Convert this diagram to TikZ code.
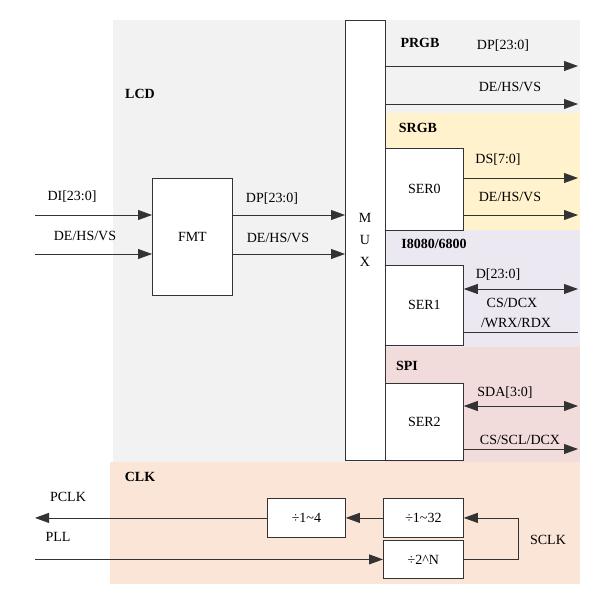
\documentclass[tikz,border=0pt]{standalone}
\usepackage{fontspec}
\setmainfont{Liberation Serif}
\usetikzlibrary{arrows.meta}
\definecolor{gr}{HTML}{F2F2F2}
\definecolor{ye}{HTML}{FFF2CC}
\definecolor{la}{HTML}{ECE8F2}
\definecolor{pk}{HTML}{F2DCDB}
\definecolor{or}{HTML}{FBE5D6}
\begin{document}
\begin{tikzpicture}[x=1pt,y=-1pt,
  box/.style={draw=black!80,fill=white,line width=0.8pt},
  ar/.style={draw=black!80,line width=0.8pt,-{Triangle[width=10pt,length=14pt]}},
  dar/.style={draw=black!80,line width=0.8pt,{Triangle[width=10pt,length=14pt]}-{Triangle[width=10pt,length=14pt]}},
  ln/.style={draw=black!80,line width=0.8pt},
  lb/.style={font=\fontsize{14}{16}\selectfont,inner sep=0pt},
  tt/.style={font=\fontsize{14}{16}\selectfont\bfseries,inner sep=0pt}]
\useasboundingbox (0,0) rectangle (603,606);
\fill[gr] (113,20) rectangle (580,462);
\fill[ye] (385,113) rectangle (580,230);
\fill[la] (385,230) rectangle (580,347);
\fill[pk] (385,347) rectangle (580,462);
\fill[or] (110,462) rectangle (580,584);
\node[box,minimum width=40pt,minimum height=440pt,anchor=north west,inner sep=0pt] (mux) at (345,20) {};
\node[lb,align=center] at (365,240) {M\\[6pt]U\\[6pt]X};
\node[box,minimum width=80pt,minimum height=117pt,anchor=north west,lb] (fmt) at (152,178) {FMT};
\node[box,minimum width=78pt,minimum height=82pt,anchor=north west,lb] (s0) at (385,148) {SER0};
\node[box,minimum width=78pt,minimum height=80pt,anchor=north west,lb] (s1) at (385,265) {SER1};
\node[box,minimum width=78pt,minimum height=77pt,anchor=north west,lb] (s2) at (385,383) {SER2};
\node[box,minimum width=78pt,minimum height=39pt,anchor=north west,lb] (d4) at (267,498) {÷1\textasciitilde4};
\node[box,minimum width=80pt,minimum height=39pt,anchor=north west,lb] (d32) at (383,498) {÷1\textasciitilde32};
\node[box,minimum width=80pt,minimum height=38pt,anchor=north west,lb] (dn) at (383,540) {÷2\textasciicircum N};
\node[tt] at (140,94) {LCD};
\node[tt] at (420,43) {PRGB};
\node[tt] at (418,128) {SRGB};
\node[tt] at (434,244) {I8080/6800};
\node[tt] at (407,366) {SPI};
\node[tt] at (140,477) {CLK};
\coordinate (i1) at (35,215); \coordinate (i2) at (35,254);
\draw[ar] (i1) -- (i1-|fmt.west);
\draw[ar] (i2) -- (i2-|fmt.west);
\node[lb] at (72,197) {DI[23:0]};
\node[lb] at (85,236) {DE/HS/VS};
\draw[ar] (i1-|fmt.east) -- (i1-|mux.west);
\draw[ar] (i2-|fmt.east) -- (i2-|mux.west);
\node[lb] at (272,199) {DP[23:0]};
\node[lb] at (278,238) {DE/HS/VS};
\coordinate (p1) at (578,66); \coordinate (p2) at (578,104);
\draw[ar] (p1-|mux.east) -- (p1);
\draw[ar] (p2-|mux.east) -- (p2);
\node[lb] at (503,46) {DP[23:0]};
\node[lb] at (510,87) {DE/HS/VS};
\coordinate (q1) at (578,178); \coordinate (q2) at (578,215);
\draw[ar] (q1-|s0.east) -- (q1);
\draw[ar] (q2-|s0.east) -- (q2);
\node[lb] at (498,160) {DS[7:0]};
\node[lb] at (510,197) {DE/HS/VS};
\coordinate (r1) at (578,289); \coordinate (r2) at (578,332);
\draw[dar] (r1-|s1.east) -- (r1);
\draw[ln] (r2-|s1.east) -- (r2);
\node[lb] at (498,275) {D[23:0]};
\node[lb] at (512,303) {CS/DCX};
\node[lb] at (516,323) {/WRX/RDX};
\coordinate (t1) at (578,406); \coordinate (t2) at (578,449);
\draw[dar] (t1-|s2.east) -- (t1);
\draw[ar] (t2-|s2.east) -- (t2);
\node[lb] at (505,393) {SDA[3:0]};
\node[lb] at (520,440) {CS/SCL/DCX};
\coordinate (pc) at (35,517); \coordinate (pl) at (35,557); \coordinate (lp) at (518,517);
\draw[ar] (d4.west) -- (d4.west-|pc);
\draw[ar] (d32.west) -- (d4.east);
\draw[ar] (dn.west-|pl) -- (dn.west);
\draw[ar] (dn.east) -| (lp|-d32.east) -- (d32.east);
\node[lb] at (68,497) {PCLK};
\node[lb] at (58,537) {PLL};
\node[lb] at (548,540) {SCLK};
\end{tikzpicture}
\end{document}
